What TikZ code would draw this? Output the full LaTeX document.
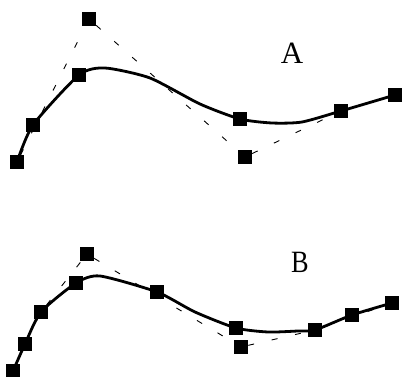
\documentclass[tikz,border=0pt]{standalone}
\usepackage{fontspec}
\setmainfont{Liberation Serif}
\begin{document}
\begin{tikzpicture}[x=1pt,y=-1pt,
  pt/.style={fill=black,draw=none,minimum size=14.5pt,inner sep=0pt,outer sep=0pt},
  curve/.style={line width=2.8pt,line join=round},
  ctrl/.style={line width=0.9pt,dash pattern=on 6pt off 18pt},
  lbl/.style={font=\fontsize{31}{33}\selectfont,inner sep=0pt}]
\useasboundingbox (0,0) rectangle (402,377);
% ---- A ----
\node[pt] (a1) at (17,162) {};
\node[pt] (a2) at (33,125) {};
\node[pt] (a3) at (79,75) {};
\node[pt] (a4) at (89,19) {};
\node[pt] (a5) at (240,119) {};
\node[pt] (a6) at (245,157) {};
\node[pt] (a7) at (341,111) {};
\node[pt] (a8) at (395,95) {};
\coordinate (ap1) at (105,68);
\coordinate (ap2) at (150,78);
\coordinate (ap3) at (200,104);
\coordinate (ap4) at (272,123);
\coordinate (ap5) at (302,122);
\draw[ctrl] (a1) -- (a4) -- (a6) -- (a7) -- (a8);
\draw[curve] plot[smooth,tension=0.4] coordinates {(a1) (a2) (a3) (ap1) (ap2) (ap3) (a5) (ap4) (ap5) (a7) (a8)};
\node[lbl] (la) at (292,53) {A};
% ---- B ----
\node[pt] (b1) at (13,371) {};
\node[pt] (b2) at (25,344) {};
\node[pt] (b3) at (41,312) {};
\node[pt] (b4) at (76,283) {};
\node[pt] (b5) at (87,254) {};
\node[pt] (b6) at (157,292) {};
\node[pt] (b7) at (236,328) {};
\node[pt] (b8) at (241,347) {};
\node[pt] (b9) at (315,330) {};
\node[pt] (b10) at (352,315) {};
\node[pt] (b11) at (392,303) {};
\coordinate (bp1) at (100,276);
\coordinate (bp2) at (195,312);
\coordinate (bp3) at (268,332);
\coordinate (bp4) at (298,331);
\draw[ctrl] (b1) -- (b3) -- (b5) -- (b8) -- (b9) -- (b11);
\draw[curve] plot[smooth,tension=0.4] coordinates {(b1) (b2) (b3) (b4) (bp1) (b6) (bp2) (b7) (bp3) (bp4) (b9) (b10) (b11)};
\node[lbl,xscale=0.85] (lb) at (300,262) {B};
\end{tikzpicture}
\end{document}
